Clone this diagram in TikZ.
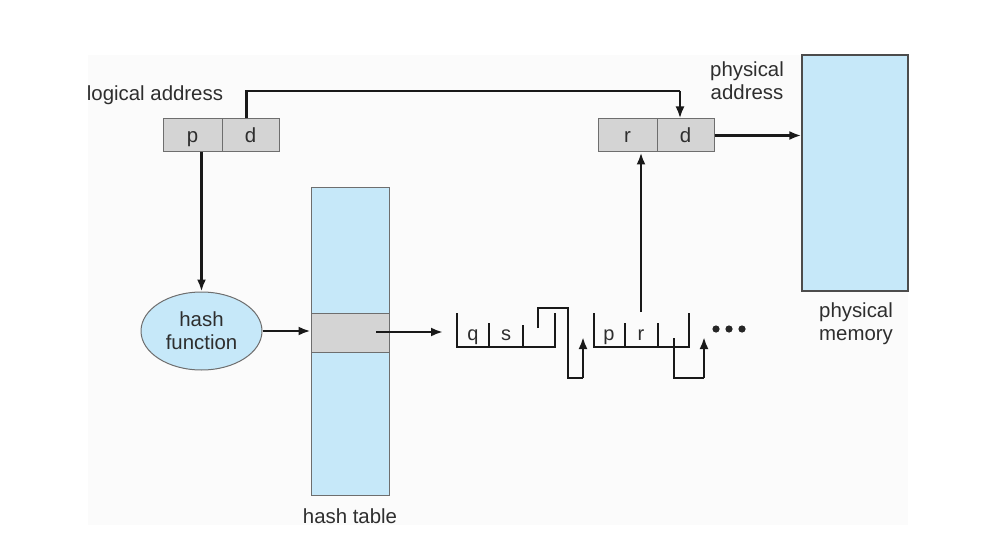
\documentclass[tikz,border=0pt]{standalone}
\usepackage{fontspec}
\setmainfont{Liberation Sans}
\usetikzlibrary{arrows.meta,shapes.geometric}
\definecolor{lblue}{HTML}{C6E8F9}
\definecolor{cellgray}{HTML}{D4D4D4}
\definecolor{edgegray}{HTML}{6E6E6E}
\definecolor{txt}{HTML}{2E2E2E}
\tikzset{
  lbl/.style={font=\fontsize{20.4}{23}\selectfont, text=txt, align=center, inner sep=0pt},
  cell/.style={draw=edgegray, line width=1pt, fill=cellgray, minimum height=33pt, inner sep=0pt, text height=19pt, text depth=4pt, font=\fontsize{20.4}{23}\selectfont, text=txt},
  bluebox/.style={draw=edgegray, line width=1pt, fill=lblue, inner sep=0pt},
  arr/.style={line width=2.4pt, draw=black!90, -{Latex[length=12pt,width=9pt]}},
  wire/.style={line width=2.4pt, draw=black!90},
  lettr/.style={font=\fontsize{20}{23}\selectfont, text=txt, inner sep=0pt, anchor=base},
}
\begin{document}
\begin{tikzpicture}[x=1pt,y=-1pt]
\useasboundingbox (0,0) rectangle (1006,548);
\fill[gray!3] (88,55) rectangle (908,525);

% logical address
\node[lbl] (lal) at (155,95) {logical address};
\node[cell, minimum width=59pt] (lp) at (192.5,135.5) {p};
\node[cell, minimum width=57pt] (ld) at (250.5,135.5) {d};

% physical address
\node[lbl] (pal) at (747,81) {physical\\address};
\node[cell, minimum width=59pt] (pr) at (627.5,135.5) {r};
\node[cell, minimum width=57pt] (pd) at (685.5,135.5) {d};

% physical memory
\node[bluebox, draw=black!70, line width=1.3pt, minimum width=106pt, minimum height=236pt] (mem) at (855,173) {};
\node[lbl] (pml) at (856,323.5) {physical\\memory};

% hash function
\node[bluebox, ellipse, minimum width=121pt, minimum height=78pt, lbl, draw=edgegray, fill=lblue] (hf) at (201.5,331) {hash\\function};

% hash table
\node[bluebox, minimum width=78pt, minimum height=307pt] (ht) at (350,341.5) {};
\node[draw=edgegray, line width=1pt, fill=cellgray, minimum width=78pt, minimum height=39pt, inner sep=0pt] (band) at (350,332.5) {};
\node[lbl] (htl) at (350,516) {hash table};

% connectors
\draw[wire] ([xshift=-4pt]ld.north) |- (680,91) coordinate (topc);
\draw[arr] (topc) -- (topc |- pd.north);
\draw[arr] (pd.east) -- (pd.east -| mem.west);
\draw[arr] (lp.south -| hf.north) -- (hf.north);
\draw[arr] (hf.east) -- (hf.east -| ht.west);
\coordinate (hs) at (376,332);
\coordinate (ls) at (443,332);
\draw[arr] (hs) -- (ls);

% first list node
\draw[wire] (457,313) -- (457,347) -- (555,347) -- (555,313);
\draw[wire] (489,323) -- (489,347);
\draw[wire] (523,325) -- (523,347);
\node[lettr] (q) at (473,340) {q};
\node[lettr] (s) at (506,340) {s};
\draw[wire] (538,328) -- (538,308) -- (568,308) -- (568,378) -- (583,378) coordinate (n1a);
\draw[arr] (n1a) -- (583,337);

% second list node
\draw[wire] (594,313) -- (594,347) -- (689,347) -- (689,313);
\draw[wire] (625,323) -- (625,347);
\draw[wire] (658,323) -- (658,347);
\node[lettr] (p2) at (609,340) {p};
\node[lettr] (r2) at (641,340) {r};
\coordinate (rl) at (641,312);
\draw[arr] (rl) -- (rl |- pr.south);
\draw[wire] (674,338) -- (674,378) -- (704,378) coordinate (n2a);
\draw[arr] (n2a) -- (704,337);

% dots
\foreach \x in {716,729,742} \fill[black!85] (\x,329) circle (3.6pt);
\end{tikzpicture}
\end{document}
